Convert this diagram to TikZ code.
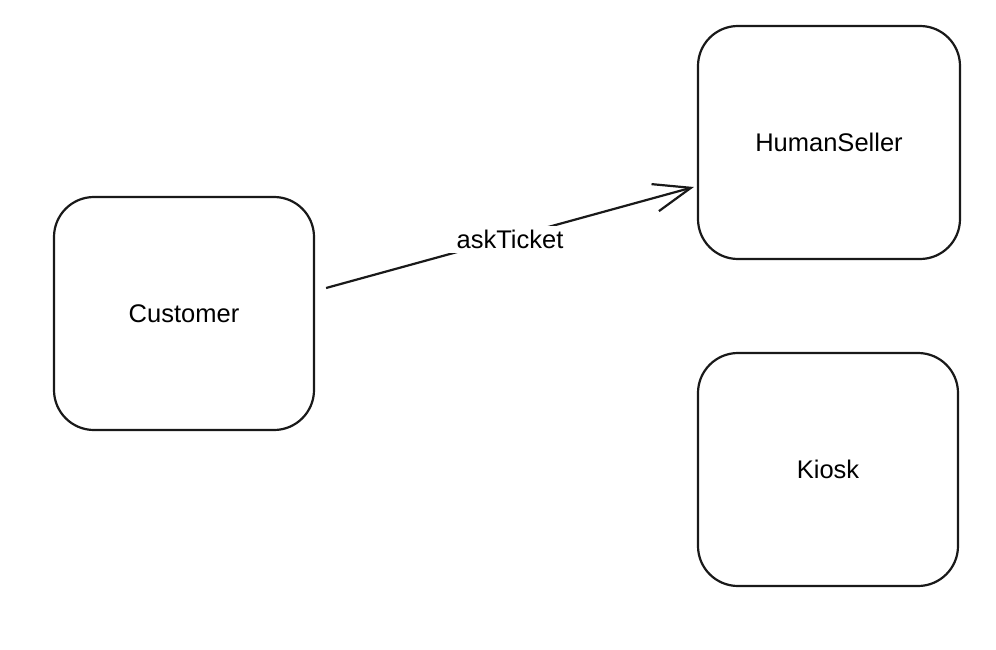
\documentclass[tikz,border=0pt]{standalone}
\usepackage{fontspec}
\setmainfont{Liberation Sans}
\usetikzlibrary{arrows.meta}
\begin{document}
\begin{tikzpicture}[x=1pt,y=-1pt,
  box/.style={draw=black!90, line width=2.2pt, rounded corners=40pt, minimum width=260pt, minimum height=233pt, inner sep=0pt, font=\fontsize{25.5}{30}\selectfont},
  conn/.style={draw=black!90, line width=2.2pt, -{Straight Barb[length=37pt,width=28pt,line width=2.2pt]}},
  lbl/.style={fill=white, inner xsep=8pt, inner ysep=4pt, font=\fontsize{25.5}{30}\selectfont}]
\useasboundingbox (0,0) rectangle (996,650);
\node[box] (cust) at (184,313.5) {Customer};
\node[box, minimum width=262pt] (seller) at (829,142.5) {HumanSeller};
\node[box] (kiosk) at (828,469.5) {Kiosk};
\coordinate (s) at ([xshift=11pt, yshift=25.5pt]cust.east);
\coordinate (e) at ([xshift=-3pt, yshift=-44.5pt]seller.west);
\draw[conn] (s) -- node[lbl, pos=0.5, yshift=-2pt] {askTicket} (e);
\end{tikzpicture}
\end{document}
